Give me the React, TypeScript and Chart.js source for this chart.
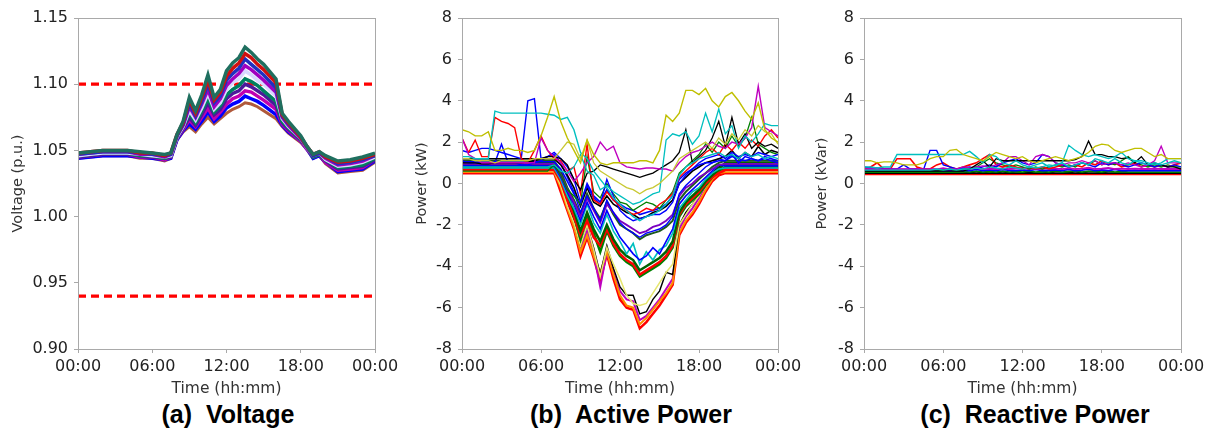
import React, { useEffect, useRef } from 'react';
import { Chart, registerables } from 'chart.js';

Chart.register(...registerables);

// ---------- shared axis data ----------
const X_TICK_LABELS = ['00:00', '06:00', '12:00', '18:00', '00:00'];
const CAPTIONS = ['(a)  Voltage', '(b)  Active Power', '(c)  Reactive Power'];
const Y_TITLES = ['Voltage (p.u.)', 'Power (kW)', 'Power (kVar)'];
const X_TITLE = 'Time (hh:mm)';

// ---------- (a) voltage ----------
const V_HOURS = [0, 1, 2, 3, 4, 5, 6, 7, 7.5, 8, 8.5, 9, 9.5, 10, 10.5, 11, 11.5, 12, 12.5, 13, 13.5, 14, 14.5, 15, 16, 16.5, 17, 18, 18.5, 19, 19.5, 20, 21, 22, 23, 24];
const V_LIMITS = [1.10, 0.94];
const V0 = [1.048, 1.049, 1.050, 1.050, 1.050, 1.049, 1.048, 1.047, 1.048, 1.062, 1.072, 1.090, 1.080, 1.092, 1.107, 1.090, 1.096, 1.110, 1.116, 1.120, 1.128, 1.124, 1.119, 1.115, 1.104, 1.078, 1.072, 1.061, 1.053, 1.047, 1.049, 1.046, 1.042, 1.043, 1.045, 1.048];
const V1 = [1.048, 1.049, 1.050, 1.050, 1.050, 1.048, 1.048, 1.046, 1.048, 1.062, 1.071, 1.088, 1.078, 1.090, 1.103, 1.088, 1.094, 1.106, 1.112, 1.116, 1.123, 1.120, 1.115, 1.111, 1.101, 1.077, 1.071, 1.060, 1.053, 1.047, 1.049, 1.045, 1.041, 1.042, 1.044, 1.047];
const V2 = [1.047, 1.048, 1.049, 1.049, 1.049, 1.048, 1.047, 1.046, 1.047, 1.061, 1.070, 1.085, 1.076, 1.087, 1.100, 1.086, 1.091, 1.103, 1.108, 1.112, 1.119, 1.115, 1.111, 1.107, 1.097, 1.076, 1.070, 1.060, 1.053, 1.046, 1.048, 1.045, 1.040, 1.041, 1.043, 1.046];
const V3 = [1.047, 1.048, 1.049, 1.049, 1.049, 1.047, 1.047, 1.045, 1.047, 1.061, 1.069, 1.083, 1.075, 1.085, 1.096, 1.083, 1.089, 1.099, 1.104, 1.108, 1.114, 1.111, 1.107, 1.103, 1.094, 1.075, 1.069, 1.059, 1.052, 1.046, 1.048, 1.044, 1.039, 1.040, 1.042, 1.046];
const V4 = [1.046, 1.047, 1.048, 1.048, 1.048, 1.047, 1.046, 1.045, 1.046, 1.060, 1.068, 1.080, 1.073, 1.082, 1.093, 1.081, 1.086, 1.096, 1.101, 1.104, 1.110, 1.107, 1.103, 1.100, 1.091, 1.074, 1.068, 1.059, 1.052, 1.046, 1.048, 1.043, 1.038, 1.039, 1.041, 1.045];
const V5 = [1.046, 1.047, 1.048, 1.048, 1.048, 1.046, 1.046, 1.044, 1.046, 1.060, 1.068, 1.078, 1.071, 1.080, 1.089, 1.079, 1.084, 1.092, 1.096, 1.099, 1.104, 1.102, 1.099, 1.095, 1.087, 1.072, 1.067, 1.058, 1.052, 1.045, 1.047, 1.043, 1.037, 1.038, 1.039, 1.044];
const V6 = [1.045, 1.046, 1.047, 1.047, 1.047, 1.046, 1.045, 1.044, 1.045, 1.059, 1.067, 1.075, 1.069, 1.077, 1.086, 1.077, 1.081, 1.089, 1.093, 1.095, 1.100, 1.098, 1.095, 1.092, 1.084, 1.071, 1.066, 1.058, 1.052, 1.045, 1.047, 1.042, 1.036, 1.037, 1.038, 1.043];
const V7 = [1.045, 1.046, 1.047, 1.047, 1.047, 1.045, 1.045, 1.043, 1.045, 1.059, 1.066, 1.073, 1.068, 1.075, 1.082, 1.074, 1.079, 1.085, 1.089, 1.091, 1.095, 1.094, 1.091, 1.088, 1.081, 1.070, 1.065, 1.057, 1.051, 1.045, 1.047, 1.041, 1.035, 1.036, 1.037, 1.043];
const V8 = [1.044, 1.045, 1.046, 1.046, 1.046, 1.045, 1.044, 1.043, 1.044, 1.058, 1.065, 1.070, 1.066, 1.072, 1.079, 1.072, 1.076, 1.082, 1.085, 1.087, 1.091, 1.089, 1.087, 1.084, 1.077, 1.069, 1.064, 1.057, 1.051, 1.044, 1.046, 1.041, 1.034, 1.035, 1.036, 1.042];
const V9 = [1.044, 1.045, 1.046, 1.046, 1.046, 1.044, 1.044, 1.042, 1.044, 1.058, 1.064, 1.068, 1.064, 1.070, 1.075, 1.070, 1.074, 1.078, 1.081, 1.083, 1.086, 1.085, 1.083, 1.080, 1.074, 1.068, 1.063, 1.056, 1.051, 1.044, 1.046, 1.040, 1.033, 1.034, 1.035, 1.041];

// ---------- (b) active power, half-hourly ----------
const HALF_HOURS = [0, 0.5, 1, 1.5, 2, 2.5, 3, 3.5, 4, 4.5, 5, 5.5, 6, 6.5, 7, 7.5, 8, 8.5, 9, 9.5, 10, 10.5, 11, 11.5, 12, 12.5, 13, 13.5, 14, 14.5, 15, 15.5, 16, 16.5, 17, 17.5, 18, 18.5, 19, 19.5, 20, 20.5, 21, 21.5, 22, 22.5, 23, 23.5, 24];

const P_R1 = [0.5, 0.5, 0.5, 0.5, 0.5, 0.5, 0.5, 0.5, 0.5, 0.5, 0.5, 0.5, 0.5, 0.5,
  0.5, -0.4, -1.3, -2.2, -3.5, -2.6, -3.6, -4.7, -3.4, -4.6, -5.6, -6.0, -6.1, -7.0, -6.7, -6.3, -5.9, -5.4, -4.9, -2.5, -1.9, -1.5, -1.0, -0.4, 0.1, 0.4,
  0.5, 0.5, 0.5, 0.5, 0.5, 0.5, 0.5, 0.5, 0.5];
const P_M1 = [0.7, 0.7, 0.7, 0.7, 0.7, 0.7, 0.7, 0.7, 0.7, 0.7, 0.7, 0.7, 0.7, 0.7,
  0.7, 0.0, -1.0, -2.0, -3.2, -2.3, -3.4, -5.0, -3.3, -4.3, -5.2, -5.6, -5.7, -6.6, -6.4, -6.0, -5.6, -5.1, -4.6, -2.2, -1.6, -1.2, -0.7, -0.1, 0.3, 0.6,
  0.7, 0.7, 0.7, 0.7, 0.7, 0.7, 0.7, 0.7, 0.7];
const P_K1 = [0.9, 0.9, 0.9, 0.9, 0.9, 0.9, 0.9, 0.9, 0.9, 0.9, 0.9, 0.9, 0.9, 0.9,
  0.9, 0.2, -0.8, -1.8, -3.0, -2.0, -3.1, -4.4, -3.0, -4.1, -5.0, -5.4, -5.4, -6.3, -6.2, -5.6, -5.2, -4.3, -4.4, -2.0, -1.4, -1.0, -0.5, 0.1, 0.5, 0.8,
  0.9, 0.9, 0.9, 0.9, 0.9, 0.9, 0.9, 0.9, 0.9];
const P_Y1 = [0.6, 0.6, 0.6, 0.6, 0.6, 0.6, 0.6, 0.6, 0.6, 0.6, 0.6, 0.6, 0.6, 0.6,
  0.6, -0.1, -1.1, -1.9, -3.0, -2.0, -3.2, -4.5, -3.1, -3.9, -4.6, -5.4, -5.8, -5.9, -5.8, -5.3, -4.8, -4.3, -3.9, -2.0, -1.5, -1.0, -0.6, 0.0, 0.4, 0.6,
  0.6, 0.6, 0.6, 0.6, 0.6, 0.6, 0.6, 0.6, 0.6];
const P_O1 = [0.55, 0.55, 0.55, 0.55, 0.55, 0.55, 0.55, 0.55, 0.55, 0.55, 0.55, 0.55, 0.55, 0.55,
  0.55, -0.2, -1.2, -2.1, -3.3, -2.5, -3.5, -4.3, -3.3, -4.4, -5.4, -5.9, -6.0, -6.8, -6.5, -6.1, -5.7, -5.3, -4.8, -2.4, -1.8, -1.4, -0.9, -0.3, 0.2, 0.5,
  0.55, 0.55, 0.55, 0.55, 0.55, 0.55, 0.55, 0.55, 0.55];
const P_G1 = [0.8, 0.8, 0.8, 0.8, 0.8, 0.8, 0.8, 0.8, 0.8, 0.8, 0.8, 0.8, 0.8, 0.8,
  0.8, 0.2, -0.7, -1.5, -2.7, -1.6, -2.4, -3.3, -2.3, -3.0, -3.5, -3.8, -4.0, -4.5, -4.3, -4.1, -3.9, -3.6, -3.1, -1.6, -1.1, -0.8, -0.5, -0.1, 0.3, 0.6,
  0.8, 0.8, 0.8, 0.8, 0.8, 0.8, 0.8, 0.8, 0.8];
const P_G2 = [0.65, 0.65, 0.65, 0.65, 0.65, 0.65, 0.65, 0.65, 0.65, 0.65, 0.65, 0.65, 0.65, 0.65,
  0.65, 0.1, -0.8, -1.6, -2.5, -1.8, -2.6, -3.0, -2.2, -2.9, -3.4, -3.7, -3.9, -4.4, -4.2, -4.0, -3.8, -3.5, -3.0, -1.5, -1.0, -0.7, -0.4, 0.0, 0.3, 0.5,
  0.65, 0.65, 0.65, 0.65, 0.65, 0.65, 0.65, 0.65, 0.65];
const P_G3 = [1.0, 1.0, 1.0, 1.0, 1.0, 1.0, 1.0, 1.0, 1.0, 1.0, 1.0, 1.0, 1.0, 1.0,
  1.0, 0.4, -0.5, -1.3, -2.3, -1.4, -2.2, -2.8, -2.0, -2.7, -3.2, -3.5, -3.7, -4.2, -4.0, -3.8, -3.6, -3.3, -2.8, -1.4, -0.9, -0.6, -0.3, 0.1, 0.4, 0.7,
  1.0, 1.0, 1.0, 1.0, 1.0, 1.0, 1.0, 1.0, 1.0];
const P_G4 = [0.75, 0.75, 0.75, 0.75, 0.75, 0.75, 0.75, 0.75, 0.75, 0.75, 0.75, 0.75, 0.75, 0.75,
  0.75, 0.2, -0.6, -1.2, -2.0, -1.0, -1.9, -2.4, -1.5, -2.3, -2.8, -3.4, -2.9, -3.9, -3.3, -3.7, -3.2, -3.0, -2.4, -1.2, -0.8, -0.4, -0.2, 0.2, 0.5, 0.7,
  0.75, 0.75, 0.75, 0.75, 0.75, 0.75, 0.75, 0.75, 0.75];
const P_G5 = [0.85, 0.85, 0.85, 0.85, 0.85, 0.85, 0.85, 0.85, 0.85, 0.85, 0.85, 0.85, 0.85, 0.85,
  0.85, 0.3, -0.4, -1.0, -1.8, -0.9, -1.6, -2.2, -1.3, -2.0, -2.6, -3.0, -3.4, -3.7, -3.5, -3.1, -3.4, -2.8, -2.2, -1.0, -0.6, -0.3, 0.0, 0.3, 0.6, 0.9,
  0.85, 0.85, 0.85, 0.85, 0.85, 0.85, 0.85, 0.85, 0.85];
const P_H1 = [1.1, 1.1, 1.1, 1.1, 1.1, 1.1, 1.1, 1.1, 1.1, 1.1, 1.1, 1.1, 1.1, 1.1,
  1.1, 0.6, -0.2, -0.8, -1.5, -0.5, -1.2, -1.7, -0.9, -1.5, -2.0, -2.2, -2.4, -2.7, -2.5, -2.4, -2.3, -2.1, -1.8, -0.8, -0.4, -0.1, 0.2, 0.5, 0.8, 1.0,
  1.1, 1.1, 1.1, 1.1, 1.1, 1.1, 1.1, 1.1, 1.1];
const P_H2 = [0.95, 0.95, 0.95, 0.95, 0.95, 0.95, 0.95, 0.95, 0.95, 0.95, 0.95, 0.95, 0.95, 0.95,
  0.95, 0.4, -0.3, -0.9, -1.6, -0.7, -1.3, -1.9, -1.0, -1.4, -1.8, -2.0, -2.2, -2.4, -2.3, -2.1, -2.0, -1.8, -1.5, -0.6, -0.2, 0.0, 0.3, 0.5, 0.7, 0.9,
  0.95, 0.95, 0.95, 0.95, 0.95, 0.95, 0.95, 0.95, 0.95];
const P_J1 = [1.2, 1.2, 1.2, 1.2, 1.2, 1.2, 1.2, 1.2, 1.2, 1.2, 1.2, 1.2, 1.2, 1.2,
  1.2, 0.9, 0.4, -0.2, -1.1, -0.2, -0.9, -1.1, -0.6, -1.0, -1.2, -1.4, -1.5, -1.7, -1.6, -1.4, -1.3, -1.1, -0.8, 0.0, 0.3, 0.6, 0.8, 1.0, 1.1, 1.2,
  1.3, 1.6, 1.2, 1.5, 1.3, 1.8, 1.4, 1.6, 1.5];
const P_J2 = [1.05, 1.05, 1.05, 1.05, 1.05, 1.05, 1.05, 1.05, 1.05, 1.05, 1.05, 1.05, 1.05, 1.05,
  1.05, 0.7, 0.1, -0.5, -1.0, 0.0, -0.6, -0.9, -0.3, -0.8, -1.0, -1.2, -1.3, -1.5, -1.4, -1.3, -1.2, -1.0, -0.6, 0.2, 0.5, 0.7, 0.9, 1.0, 1.0, 1.1,
  1.1, 1.4, 1.0, 1.3, 1.2, 1.1, 1.3, 1.2, 1.1];
const P_GS = [0.6, 0.6, 0.6, 0.6, 0.6, 0.6, 0.6, 0.6, 0.6, 0.6, 0.6, 0.6, 0.6, 0.6,
  0.9, 0.4, -0.3, -0.6, -1.0, 1.3, -0.4, -0.7, 0.0, -0.5, -0.9, -1.0, -1.3, -1.1, -0.9, -1.0, -1.2, -0.8, -0.4, 0.5, 0.8, 1.1, 1.4, 1.9, 1.5, 2.0,
  1.7, 2.3, 1.8, 2.2, 3.2, 1.9, 1.7, 1.5, 1.4];
const P_C2 = [0.8, 0.8, 0.8, 0.8, 0.8, 0.8, 0.8, 0.8, 0.8, 0.8, 0.8, 0.8, 0.8, 0.8,
  0.9, 0.6, 0.5, 0.8, 1.4, 0.6, 0.4, -0.3, -0.1, -0.4, -0.6, -0.8, -1.0, -0.9, -0.7, -0.5, -0.4, 2.1, 2.4, 2.3, 2.5, 1.9, 2.3, 3.4, 2.5, 3.6,
  2.4, 2.8, 1.7, 2.3, 2.0, 2.4, 2.9, 2.8, 2.8];
const P_C1 = [1.3, 1.3, 1.2, 1.2, 1.2, 3.5, 3.4, 3.4, 3.4, 3.4, 3.4, 3.4, 3.4, 3.35,
  3.3, 3.1, 3.2, 2.6, 1.5, 1.2, 0.6, 0.2, -0.2, -0.7, -1.0, -1.3, -1.6, -1.8, -1.6, -1.5, -1.3, -1.0, -0.6, 0.4, 0.8, 1.0, 1.2, 1.3, 1.4, 1.5,
  1.3, 1.4, 1.2, 1.5, 1.3, 1.4, 1.2, 1.3, 1.2];
const P_Y2 = [2.6, 2.5, 2.3, 2.3, 2.5, 1.6, 1.6, 1.7, 1.6, 1.6, 1.5, 1.6, 2.3, 3.2,
  4.2, 3.0, 2.2, 1.6, 1.0, 2.1, 1.4, 1.0, 0.9, 1.0, 1.0, 1.0, 1.0, 1.1, 1.1, 1.0, 1.6, 3.3, 3.0, 3.4, 4.5, 4.5, 4.3, 4.6, 4.0, 3.7,
  4.2, 4.4, 4.0, 3.5, 3.1, 3.9, 2.6, 2.2, 2.0];
const P_Y3 = [1.2, 1.2, 1.1, 1.1, 1.1, 1.0, 1.1, 1.1, 1.1, 1.1, 1.1, 1.2, 1.2, 1.2,
  1.2, 1.6, 2.0, 1.9, 1.2, 2.1, 1.0, 0.6, 0.4, 0.2, 0.0, -0.2, -0.3, -0.5, -0.3, -0.2, 0.0, 0.3, 0.6, 1.2, 1.4, 1.6, 1.8, 2.0, 1.7, 2.2,
  1.9, 2.4, 2.1, 2.6, 2.3, 2.8, 2.5, 2.4, 1.9];
const P_K2 = [1.0, 1.0, 1.0, 0.95, 0.95, 1.0, 1.0, 1.0, 1.0, 1.0, 1.05, 1.1, 1.2, 1.3,
  1.3, 1.2, 0.9, 0.2, -0.3, 0.5, 0.6, 0.9, 0.8, 0.7, 0.6, 0.5, 0.4, 0.3, 0.4, 0.5, 0.7, 0.9, 1.1, 1.5, 2.6, 1.0, 1.3, 1.6, 2.2, 3.0,
  1.8, 3.2, 1.9, 2.4, 1.7, 2.0, 1.8, 1.9, 1.7];
const P_P2 = [2.2, 1.4, 1.2, 1.0, 1.0, 1.0, 1.0, 1.0, 1.0, 1.0, 1.0, 1.0, 2.2, 1.6,
  1.3, 1.0, 0.6, 0.1, 0.5, 1.0, 1.3, 2.0, 1.6, 1.8, 1.0, 0.8, 0.75, 0.7, 0.75, 0.75, 0.7, 0.7, 0.6, 1.0, 1.3, 1.5, 1.6, 1.8, 2.0, 1.8,
  1.7, 2.0, 1.9, 2.2, 2.7, 4.7, 2.7, 2.5, 2.3];
const P_R2 = [2.2, 1.5, 2.1, 1.3, 1.3, 3.2, 3.0, 2.9, 2.7, 1.2, 1.0, 1.6, 2.3, 1.6,
  1.2, 1.1, 0.6, 0.8, -0.5, 1.9, -0.8, -1.0, -0.4, -0.8, -1.1, -1.3, -1.5, -1.4, -1.2, -1.3, -1.0, -0.8, -0.5, 0.3, 0.6, 0.9, 1.2, 1.5, 1.7, 1.4,
  1.9, 1.6, 2.0, 1.7, 2.1, 1.8, 2.3, 2.6, 2.2];
const P_B1 = [1.6, 1.5, 1.6, 1.7, 1.7, 1.6, 1.5, 1.4, 1.3, 1.2, 4.0, 4.1, 1.2, 1.3,
  1.5, 1.2, 0.8, 0.2, -0.9, -0.1, -0.7, -1.0, 0.2, -0.6, -1.3, -1.6, -1.8, -1.7, -1.6, -1.5, -1.5, -1.3, -0.9, 0.0, 0.4, 0.7, 1.0, 1.2, 1.3, 1.4,
  1.2, 1.5, 1.3, 1.4, 1.3, 1.5, 1.4, 1.3, 1.4];
const P_B2 = [1.1, 1.0, 1.0, 1.0, 1.0, 1.0, 1.9, 1.0, 1.0, 0.9, 0.9, 1.0, 1.1, 1.3,
  1.4, 1.0, 0.3, -0.4, -1.4, -0.6, -1.2, -1.8, -0.8, -1.4, -1.9, -2.2, -2.4, -2.6, -2.4, -2.3, -2.2, -2.0, -1.6, -0.5, -0.1, 0.2, 0.5, 0.8, 1.0, 1.2,
  1.1, 1.3, 1.2, 1.1, 1.2, 1.1, 1.2, 1.1, 1.0];

// ---------- (c) reactive power, half-hourly ----------
const Q_CYAN1 = [0.8, 0.8, 0.75, 0.8, 0.8, 1.4, 1.4, 1.4, 1.4, 1.4,
  1.4, 1.4, 1.4, 1.4, 1.4, 1.4, 1.55, 1.3, 1.0, 1.4,
  1.3, 1.0, 0.9, 1.1, 0.9, 0.8, 0.9, 1.0, 0.8, 0.9,
  1.0, 0.8, 0.9, 1.0, 0.9, 1.2, 1.1, 1.0, 1.2, 1.0,
  0.9, 1.1, 1.0, 0.9, 1.0, 0.9, 1.0, 1.1, 1.0];
const Q_RED = [0.7, 0.8, 1.0, 0.7, 0.7, 1.2, 1.2, 1.2, 0.8, 0.7,
  0.7, 0.9, 1.0, 0.8, 0.7, 0.8, 0.9, 1.0, 1.2, 1.4,
  0.9, 0.8, 0.9, 0.8, 0.7, 0.8, 0.7, 0.8, 0.7, 0.8,
  0.9, 0.8, 0.9, 0.8, 1.0, 0.9, 1.1, 0.9, 1.0, 0.8,
  0.9, 1.0, 0.8, 0.9, 0.8, 0.9, 0.8, 0.9, 1.0];
const Q_BLUE = [0.8, 0.75, 0.75, 0.7, 0.7, 0.7, 0.9, 0.7, 0.7, 0.65,
  1.6, 1.6, 0.9, 0.8, 0.7, 0.75, 0.8, 0.7, 0.8, 0.9,
  0.8, 1.0, 1.1, 1.2, 1.0, 0.9, 1.0, 1.4, 1.3, 1.0,
  0.9, 0.8, 0.9, 1.0, 0.9, 0.8, 1.0, 0.9, 1.0, 0.9,
  0.8, 0.9, 1.0, 0.9, 0.8, 0.9, 0.8, 0.9, 0.8];
const Q_YELLOW = [1.1, 1.1, 1.0, 1.05, 1.05, 1.0, 0.9, 0.9, 0.9, 1.0,
  1.2, 1.3, 1.3, 1.6, 1.65, 1.4, 1.3, 1.2, 1.1, 1.3,
  1.5, 1.4, 1.3, 1.2, 1.3, 1.1, 1.0, 1.1, 1.2, 1.3,
  1.2, 1.1, 1.2, 1.3, 1.5, 1.8, 1.9, 1.85, 1.6, 1.5,
  1.6, 1.7, 1.7, 1.5, 1.3, 1.4, 1.2, 1.2, 1.2];
const Q_BLACK = [0.6, 0.6, 0.6, 0.6, 0.6, 0.6, 0.6, 0.6, 0.6, 0.6,
  0.6, 0.6, 0.6, 0.6, 0.6, 0.6, 0.7, 0.9, 1.1, 0.8,
  1.2, 1.1, 1.1, 1.1, 1.1, 1.1, 1.1, 1.1, 1.1, 1.1,
  1.1, 1.1, 1.15, 1.3, 2.05, 1.4, 1.4, 1.3, 1.3, 1.2,
  1.25, 1.0, 1.3, 0.9, 1.0, 0.9, 0.8, 0.8, 0.7];
const Q_CYAN2 = [0.65, 0.65, 0.65, 0.65, 0.65, 0.65, 0.65, 0.65, 0.65, 0.65,
  0.65, 0.7, 0.65, 0.7, 0.65, 0.7, 0.7, 0.75, 0.7, 0.8,
  0.75, 0.7, 0.8, 0.75, 0.7, 0.8, 0.75, 0.8, 0.9, 0.85,
  1.0, 1.85, 1.6, 1.4, 1.3, 1.4, 1.3, 1.2, 1.3, 1.5,
  1.2, 1.1, 1.1, 1.0, 0.9, 1.0, 1.2, 1.2, 1.2];
const Q_MAGENTA = [0.7, 0.7, 0.7, 0.7, 0.7, 0.7, 0.7, 0.7, 0.7, 0.7,
  0.7, 0.7, 0.75, 0.7, 0.7, 0.8, 0.75, 0.8, 0.85, 0.8,
  0.9, 1.0, 1.3, 1.3, 1.1, 0.9, 1.3, 1.4, 1.3, 1.0,
  0.9, 1.0, 1.0, 1.1, 1.0, 1.1, 0.9, 1.0, 1.0, 0.9,
  1.0, 0.9, 0.8, 0.9, 1.1, 1.8, 1.0, 1.0, 1.0];
const Q_GREEN = [0.6, 0.6, 0.6, 0.6, 0.6, 0.6, 0.6, 0.6, 0.6, 0.6,
  0.6, 0.6, 0.65, 0.7, 0.6, 0.7, 0.75, 0.8, 1.0, 1.2,
  1.0, 0.9, 0.8, 0.9, 0.8, 0.7, 0.8, 0.7, 0.8, 0.9,
  0.8, 0.9, 0.8, 1.0, 0.9, 1.1, 0.9, 1.0, 0.9, 1.1,
  1.3, 1.0, 0.9, 0.8, 0.9, 0.8, 0.9, 0.8, 0.8];
const Q_BASE_R = [0.45, 0.45, 0.45, 0.45, 0.45, 0.45, 0.45, 0.45, 0.45, 0.45,
  0.45, 0.45, 0.45, 0.45, 0.45, 0.45, 0.45, 0.45, 0.45, 0.45,
  0.45, 0.45, 0.45, 0.45, 0.45, 0.45, 0.45, 0.45, 0.45, 0.45,
  0.45, 0.45, 0.45, 0.45, 0.45, 0.45, 0.45, 0.45, 0.45, 0.45,
  0.45, 0.45, 0.45, 0.45, 0.45, 0.45, 0.45, 0.45, 0.45];
const Q_BASE_K = [0.5, 0.5, 0.5, 0.5, 0.5, 0.5, 0.5, 0.5, 0.5, 0.5,
  0.5, 0.5, 0.5, 0.5, 0.5, 0.5, 0.52, 0.5, 0.52, 0.5,
  0.52, 0.5, 0.52, 0.5, 0.5, 0.52, 0.5, 0.5, 0.52, 0.5,
  0.5, 0.52, 0.5, 0.52, 0.5, 0.5, 0.52, 0.5, 0.5, 0.5,
  0.5, 0.5, 0.5, 0.5, 0.5, 0.5, 0.5, 0.5, 0.5];
const Q_BASE_G = [0.55, 0.55, 0.55, 0.55, 0.55, 0.55, 0.55, 0.55, 0.55, 0.55,
  0.55, 0.55, 0.55, 0.55, 0.55, 0.58, 0.55, 0.6, 0.55, 0.58,
  0.55, 0.6, 0.55, 0.58, 0.55, 0.6, 0.55, 0.58, 0.55, 0.6,
  0.55, 0.58, 0.6, 0.55, 0.6, 0.58, 0.55, 0.6, 0.55, 0.58,
  0.55, 0.55, 0.55, 0.55, 0.55, 0.55, 0.55, 0.55, 0.55];
const Q_BASE_B = [0.62, 0.62, 0.62, 0.62, 0.62, 0.62, 0.62, 0.62, 0.62, 0.62,
  0.62, 0.62, 0.62, 0.62, 0.62, 0.65, 0.62, 0.68, 0.62, 0.66,
  0.62, 0.68, 0.64, 0.62, 0.66, 0.62, 0.68, 0.62, 0.64, 0.66,
  0.62, 0.68, 0.62, 0.65, 0.7, 0.62, 0.66, 0.62, 0.68, 0.62,
  0.62, 0.64, 0.62, 0.62, 0.64, 0.62, 0.62, 0.62, 0.62];
const Q_BASE_M = [0.68, 0.68, 0.68, 0.68, 0.68, 0.68, 0.68, 0.68, 0.68, 0.68,
  0.68, 0.68, 0.68, 0.7, 0.68, 0.72, 0.7, 0.75, 0.7, 0.72,
  0.7, 0.74, 0.7, 0.72, 0.75, 0.7, 0.72, 0.7, 0.75, 0.72,
  0.7, 0.74, 0.7, 0.72, 0.76, 0.7, 0.72, 0.75, 0.7, 0.72,
  0.7, 0.72, 0.7, 0.7, 0.72, 0.7, 0.7, 0.7, 0.7];

// ---------- colours ----------
const C_BLUE = '#0000ff';
const C_GREEN = '#008000';
const C_RED = '#ff0000';
const C_CYAN = '#00bfbf';
const C_MAGENTA = '#bf00bf';
const C_YELLOW = '#bfbf00';
const C_BLACK = '#000000';

type Line = { values: number[]; color: string; width: number; dash?: number[] };

const framePlugin = {
  id: 'frame',
  afterDatasetsDraw(chart: any) {
    const { ctx, chartArea: a } = chart;
    ctx.save();
    ctx.strokeStyle = '#a9a9a9';
    ctx.lineWidth = 1;
    ctx.strokeRect(Math.round(a.left) + 0.5, Math.round(a.top) + 0.5, Math.round(a.right - a.left), Math.round(a.bottom - a.top));
    ctx.restore();
  },
};

type PanelProps = {
  left: number;
  width: number;
  yAxisWidth: number;
  yTitle: string;
  yTitlePad: number;
  yMin: number;
  yMax: number;
  yStep: number;
  yDecimals: number;
  hours: number[];
  lines: Line[];
};

const CANVAS_H = 400;

function Panel(p: PanelProps) {
  const ref = useRef<HTMLCanvasElement>(null);
  useEffect(() => {
    const datasets = p.lines.map((l) => ({
      data: l.values.map((v, i) => ({ x: l.values.length === 2 ? (i === 0 ? 0 : 24) : p.hours[i], y: v })),
      borderColor: l.color,
      borderWidth: l.width,
      borderDash: l.dash || [],
      pointRadius: 0,
      fill: false,
      tension: 0,
    }));
    const chart = new Chart(ref.current as HTMLCanvasElement, {
      type: 'line',
      data: { datasets },
      plugins: [framePlugin],
      options: {
        animation: false,
        responsive: false,
        devicePixelRatio: 1,
        events: [],
        layout: { padding: { top: 18, bottom: 1, left: 0, right: 30 } },
        plugins: { legend: { display: false }, tooltip: { enabled: false } },
        scales: {
          x: {
            type: 'linear',
            min: 0,
            max: 24,
            afterFit: (s: any) => { s.height = 50; },
            border: { display: false },
            grid: { display: true, drawOnChartArea: false, drawTicks: true, tickLength: 4, color: '#a9a9a9' },
            ticks: {
              stepSize: 6,
              autoSkip: false,
              maxRotation: 0,
              padding: 4,
              color: '#222',
              font: { family: 'DejaVu Sans', size: 16 },
              callback: (_v: any, i: number) => X_TICK_LABELS[i],
            },
            title: {
              display: true,
              text: X_TITLE,
              color: '#333',
              font: { family: 'DejaVu Sans', size: 15.5, lineHeight: 1.2 },
              padding: { top: 0, bottom: 1 },
            },
          },
          y: {
            type: 'linear',
            min: p.yMin,
            max: p.yMax,
            afterFit: (s: any) => { s.width = p.yAxisWidth; },
            border: { display: false },
            grid: { display: true, drawOnChartArea: false, drawTicks: true, tickLength: 4, color: '#a9a9a9' },
            ticks: {
              stepSize: p.yStep,
              autoSkip: false,
              padding: 6,
              color: '#222',
              font: { family: 'DejaVu Sans', size: 16 },
              callback: (v: any) => Number(v).toFixed(p.yDecimals),
            },
            title: {
              display: true,
              text: p.yTitle,
              color: '#333',
              font: { family: 'DejaVu Sans', size: 14.5, lineHeight: 1.2 },
              padding: { top: p.yTitlePad, bottom: 0 },
            },
          },
        },
      },
    } as any);
    return () => chart.destroy();
  }, []);
  return (
    <canvas
      ref={ref}
      width={p.width}
      height={CANVAS_H}
      style={{ position: 'absolute', left: p.left, top: 0, width: p.width, height: CANVAS_H }}
    />
  );
}

const VOLTAGE_LINES: Line[] = [
  { values: V0, color: '#1f6f5f', width: 3.5 },
  { values: V1, color: '#d01010', width: 3.5 },
  { values: V2, color: '#2030c0', width: 3.5 },
  { values: V3, color: '#a000c0', width: 3.5 },
  { values: V4, color: '#d8d8ff', width: 3.5 },
  { values: V5, color: '#008060', width: 3.5 },
  { values: V6, color: '#4b1a9a', width: 3.5 },
  { values: V7, color: '#c000b0', width: 3.5 },
  { values: V8, color: C_BLUE, width: 3.5 },
  { values: V9, color: '#b05a3c', width: 3 },
  { values: [V_LIMITS[0], V_LIMITS[0]], color: C_RED, width: 3.3, dash: [8, 5] },
  { values: [V_LIMITS[1], V_LIMITS[1]], color: C_RED, width: 3.3, dash: [8, 5] },
];

const ACTIVE_LINES: Line[] = [
  { values: P_Y2, color: C_YELLOW, width: 1.4 },
  { values: P_Y3, color: '#c8c832', width: 1.3 },
  { values: P_C1, color: C_CYAN, width: 1.4 },
  { values: P_C2, color: C_CYAN, width: 1.3 },
  { values: P_P2, color: C_MAGENTA, width: 1.4 },
  { values: P_K2, color: C_BLACK, width: 1.3 },
  { values: P_R2, color: C_RED, width: 1.4 },
  { values: P_B1, color: C_BLUE, width: 1.4 },
  { values: P_GS, color: C_GREEN, width: 1.3 },
  { values: P_J2, color: C_BLUE, width: 1.6 },
  { values: P_J1, color: C_BLACK, width: 1.6 },
  { values: P_B2, color: C_BLUE, width: 1.4 },
  { values: P_H2, color: '#7a00c0', width: 1.8 },
  { values: P_H1, color: '#1e5a1e', width: 2 },
  { values: P_G5, color: C_BLUE, width: 1.6 },
  { values: P_G4, color: C_CYAN, width: 1.6 },
  { values: P_G3, color: '#006400', width: 2.5 },
  { values: P_G2, color: C_RED, width: 2.5 },
  { values: P_G1, color: C_GREEN, width: 2.5 },
  { values: P_Y1, color: '#e6e66e', width: 1.5 },
  { values: P_K1, color: C_BLACK, width: 1.4 },
  { values: P_O1, color: '#ff8c00', width: 2 },
  { values: P_M1, color: C_MAGENTA, width: 2 },
  { values: P_R1, color: C_RED, width: 2.5 },
];

const REACTIVE_LINES: Line[] = [
  { values: Q_YELLOW, color: C_YELLOW, width: 1.3 },
  { values: Q_CYAN1, color: C_CYAN, width: 1.4 },
  { values: Q_CYAN2, color: C_CYAN, width: 1.3 },
  { values: Q_BLACK, color: C_BLACK, width: 1.3 },
  { values: Q_MAGENTA, color: C_MAGENTA, width: 1.3 },
  { values: Q_BLUE, color: C_BLUE, width: 1.4 },
  { values: Q_RED, color: C_RED, width: 1.6 },
  { values: Q_GREEN, color: C_GREEN, width: 1.3 },
  { values: Q_BASE_M, color: C_MAGENTA, width: 1.8 },
  { values: Q_BASE_B, color: C_BLUE, width: 1.8 },
  { values: Q_BASE_G, color: C_GREEN, width: 1.8 },
  { values: Q_BASE_K, color: C_BLACK, width: 1.8 },
  { values: Q_BASE_R, color: C_RED, width: 2.2 },
];

const CAPTION_CENTERS = [228, 631, 1035];

export default function App() {
  return (
    <div style={{ position: 'absolute', left: 0, top: 0, width: 1215, height: 431, background: '#fff', overflow: 'hidden' }}>
      <Panel left={0} width={405} yAxisWidth={78} yTitle={Y_TITLES[0]} yTitlePad={10} yMin={0.9} yMax={1.15} yStep={0.05} yDecimals={2} hours={V_HOURS} lines={VOLTAGE_LINES} />
      <Panel left={400} width={408} yAxisWidth={62} yTitle={Y_TITLES[1]} yTitlePad={14} yMin={-8} yMax={8} yStep={2} yDecimals={0} hours={HALF_HOURS} lines={ACTIVE_LINES} />
      <Panel left={800} width={411} yAxisWidth={64} yTitle={Y_TITLES[2]} yTitlePad={14} yMin={-8} yMax={8} yStep={2} yDecimals={0} hours={HALF_HOURS} lines={REACTIVE_LINES} />
      {CAPTIONS.map((c, i) => (
        <div
          key={c}
          style={{
            position: 'absolute',
            left: CAPTION_CENTERS[i] - 200,
            width: 400,
            top: 402,
            textAlign: 'center',
            whiteSpace: 'pre',
            fontFamily: '"Liberation Sans", Arial, sans-serif',
            fontWeight: 'bold',
            fontSize: 25,
            lineHeight: '25px',
            color: '#000',
          }}
        >
          {c}
        </div>
      ))}
    </div>
  );
}
